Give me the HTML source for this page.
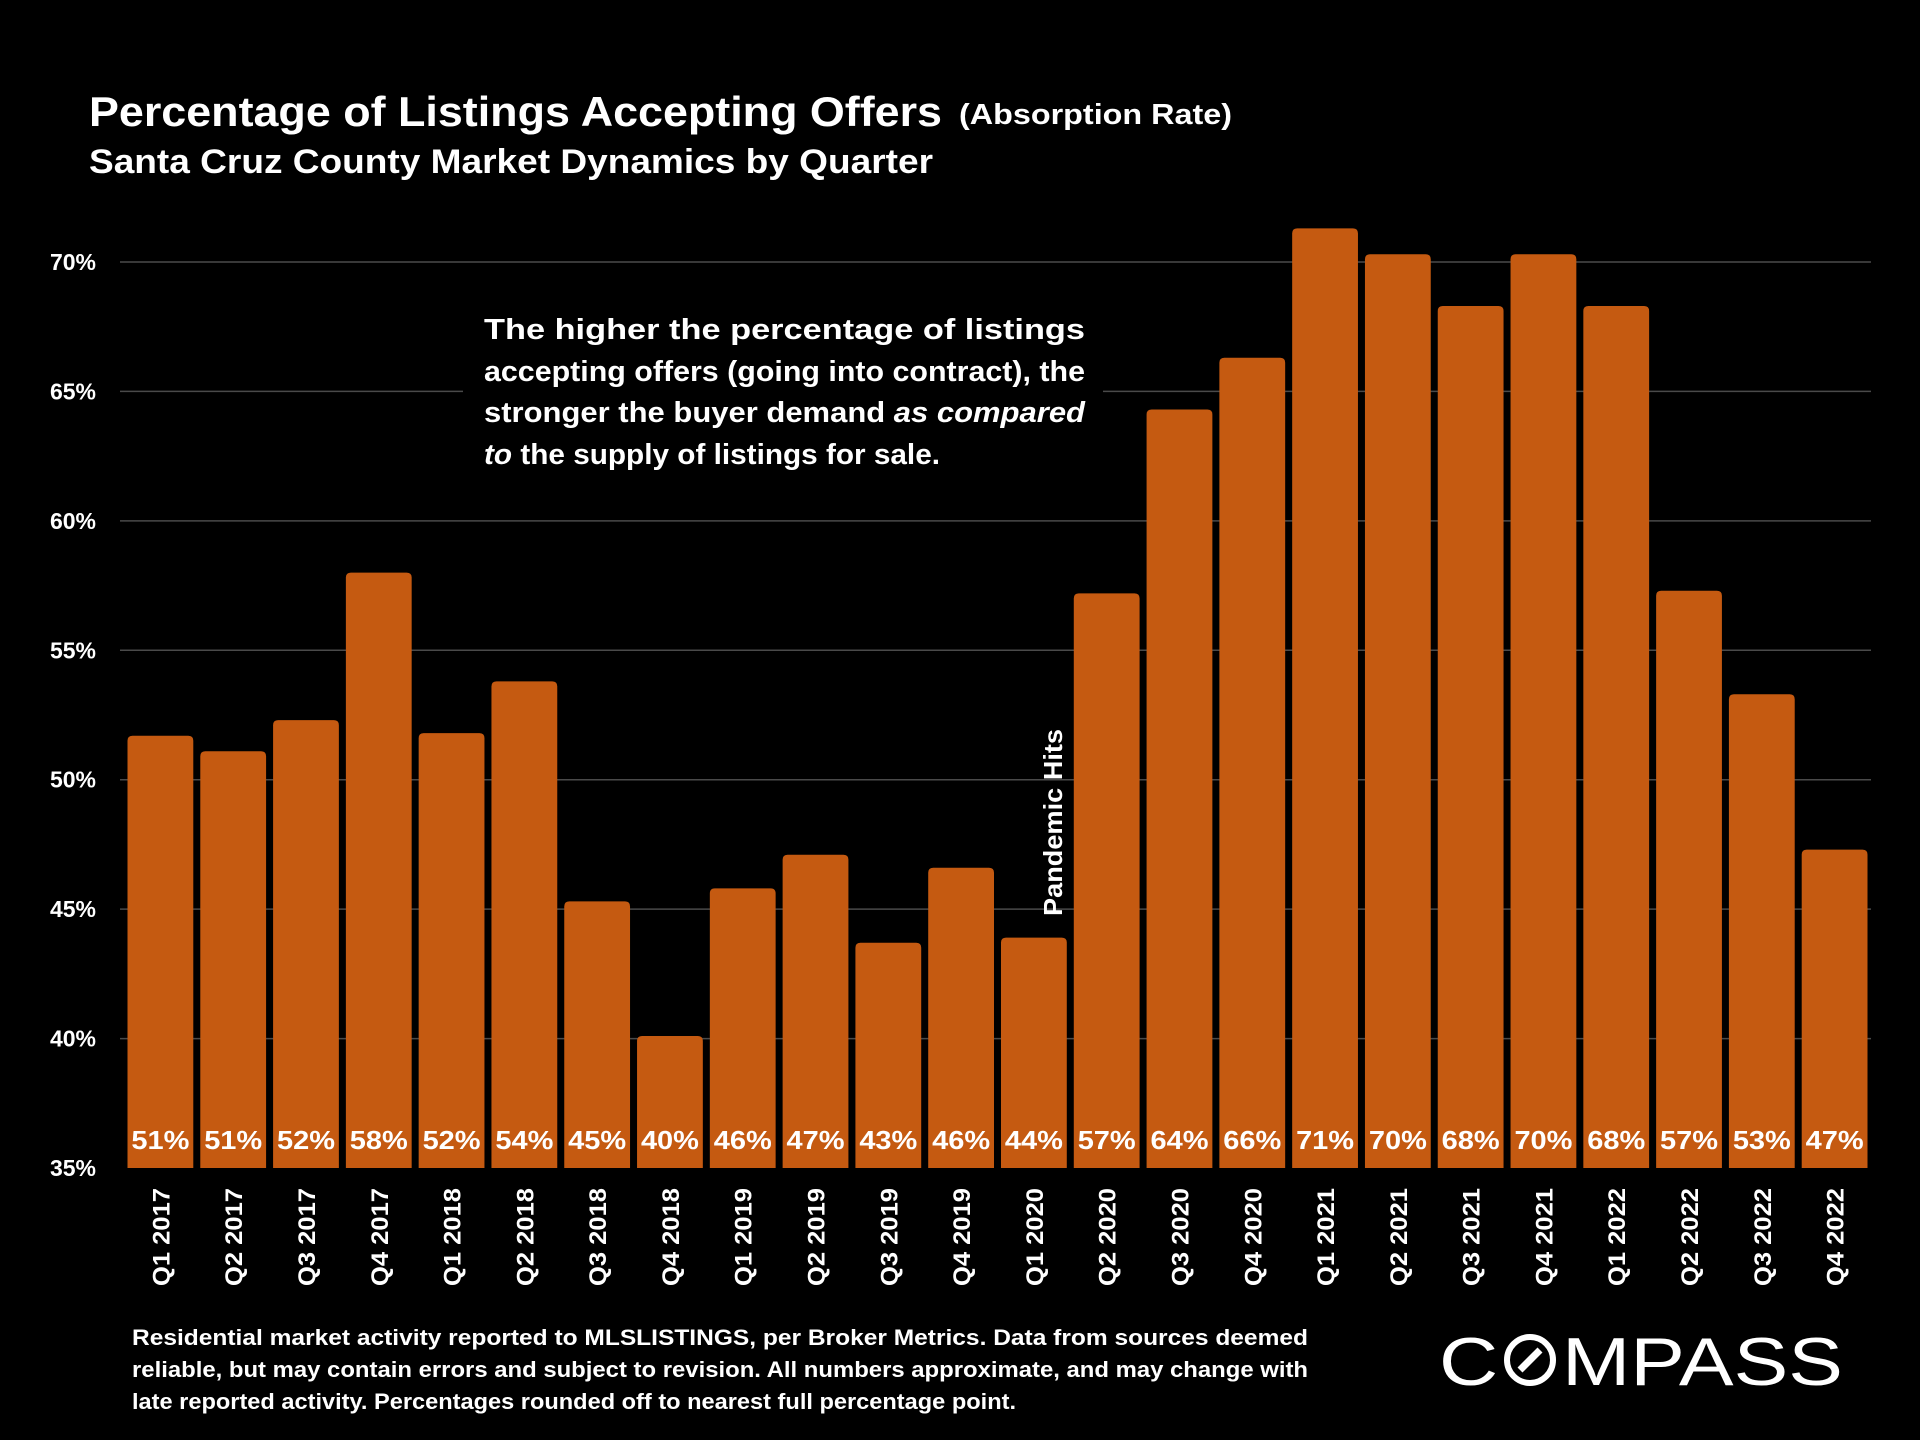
<!DOCTYPE html>
<html><head><meta charset="utf-8">
<style>
html,body{margin:0;padding:0;background:#000;}
svg{display:block;}
text{font-family:"Liberation Sans",sans-serif;fill:#fff;}
</style></head>
<body>
<svg id="chart" width="1920" height="1440" viewBox="0 0 1920 1440" xmlns="http://www.w3.org/2000/svg">
<rect x="0" y="0" width="1920" height="1440" fill="#000"/>
<g>
<text x="89" y="126" font-size="42" font-weight="bold" textLength="853" lengthAdjust="spacingAndGlyphs">Percentage of Listings Accepting Offers</text>
<text x="959" y="124" font-size="29" font-weight="bold" textLength="273" lengthAdjust="spacingAndGlyphs">(Absorption Rate)</text>
</g>
<text x="89" y="173" font-size="34" font-weight="bold" textLength="844" lengthAdjust="spacingAndGlyphs">Santa Cruz County Market Dynamics by Quarter</text>
<g id="grid"></g>
<g id="yticks"></g>
<rect x="463" y="295" width="640" height="185" fill="#000"/>
<g font-size="29" font-weight="bold">
<text x="484" y="339" textLength="601" lengthAdjust="spacingAndGlyphs">The higher the percentage of listings</text>
<text x="484" y="381" textLength="601" lengthAdjust="spacingAndGlyphs">accepting offers (going into contract), the</text>
<text x="484" y="422" textLength="601" lengthAdjust="spacingAndGlyphs">stronger the buyer demand <tspan font-style="italic">as compared</tspan></text>
<text x="484" y="464" textLength="456" lengthAdjust="spacingAndGlyphs"><tspan font-style="italic">to</tspan> the supply of listings for sale.</text>
</g>
<g id="bars"></g>
<g id="xlabels"></g>
<text transform="translate(1062,916) rotate(-90)" font-size="26" font-weight="bold" textLength="187" lengthAdjust="spacingAndGlyphs">Pandemic Hits</text>
<g font-size="22" font-weight="bold">
<text x="132" y="1345" textLength="1176" lengthAdjust="spacingAndGlyphs">Residential market activity reported to MLSLISTINGS, per Broker Metrics. Data from sources deemed</text>
<text x="132" y="1377" textLength="1176" lengthAdjust="spacingAndGlyphs">reliable, but may contain errors and subject to revision. All numbers approximate, and may change with</text>
<text x="132" y="1409" textLength="884" lengthAdjust="spacingAndGlyphs">late reported activity. Percentages rounded off to nearest full percentage point.</text>
</g>
<g>
<text x="1439" y="1385" font-size="68" textLength="404" lengthAdjust="spacingAndGlyphs">C<tspan fill="#000">O</tspan>MPASS</text>
<circle cx="1530" cy="1360" r="23" fill="none" stroke="#fff" stroke-width="6"/>
<line x1="1520" y1="1370" x2="1540" y2="1350" stroke="#fff" stroke-width="7"/>
</g>
<script>
const categories = ["Q1 2017","Q2 2017","Q3 2017","Q4 2017","Q1 2018","Q2 2018","Q3 2018","Q4 2018","Q1 2019","Q2 2019","Q3 2019","Q4 2019","Q1 2020","Q2 2020","Q3 2020","Q4 2020","Q1 2021","Q2 2021","Q3 2021","Q4 2021","Q1 2022","Q2 2022","Q3 2022","Q4 2022"];
const values = [51.7,51.1,52.3,58.0,51.8,53.8,45.3,40.1,45.8,47.1,43.7,46.6,43.9,57.2,64.3,66.3,71.3,70.3,68.3,70.3,68.3,57.3,53.3,47.3];
const valueLabels = ["51%","51%","52%","58%","52%","54%","45%","40%","46%","47%","43%","46%","44%","57%","64%","66%","71%","70%","68%","70%","68%","57%","53%","47%"];
const yTicks = [35,40,45,50,55,60,65,70];
const yTickLabels = ["35%","40%","45%","50%","55%","60%","65%","70%"];

const NS = "http://www.w3.org/2000/svg";
const plotLeft = 124, plotRight = 1871, yTop = 262, yBot = 1168, yMin = 35, yMax = 70;
const band = (plotRight - plotLeft) / categories.length;
const barW = band - 7;
function y(v){ return yBot - (v - yMin) / (yMax - yMin) * (yBot - yTop); }
function xc(i){ return plotLeft + band * (i + 0.5); }
function mk(tag, attrs, parent){ const e = document.createElementNS(NS, tag); for (const k in attrs) e.setAttribute(k, attrs[k]); parent.appendChild(e); return e; }

const grid = document.getElementById('grid');
const yt = document.getElementById('yticks');
yTicks.forEach((t, i) => {
  if (t > yMin) {
    const l = mk('line', {x1: plotLeft - 4, x2: plotRight, y1: y(t), y2: y(t), stroke: '#4a4a4a', 'stroke-width': 1.5}, grid);
    
    
  }
  const tx = mk('text', {x: 96, y: y(t) + 8, 'font-size': 23, 'font-weight': 'bold', 'text-anchor': 'end'}, yt);
  
  
  tx.textContent = yTickLabels[i];
});

const bars = document.getElementById('bars');
const xl = document.getElementById('xlabels');
values.forEach((v, i) => {
  const top = y(v), x0 = xc(i) - barW / 2;
  const r = 5;
  const p = mk('path', {d: `M${x0},${yBot} L${x0},${top + r} Q${x0},${top} ${x0 + r},${top} L${x0 + barW - r},${top} Q${x0 + barW},${top} ${x0 + barW},${top + r} L${x0 + barW},${yBot} Z`, fill: '#C55A11'}, bars);
  
  
  const vl = mk('text', {x: xc(i), y: 1149, 'font-size': 26, 'font-weight': 'bold', 'text-anchor': 'middle', textLength: 58, lengthAdjust: 'spacingAndGlyphs'}, bars);
  
  
  vl.textContent = valueLabels[i];
  const cl = mk('text', {transform: `translate(${xc(i) + 9},1188) rotate(-90)`, 'font-size': 24, 'font-weight': 'bold', 'text-anchor': 'end', textLength: 98, lengthAdjust: 'spacingAndGlyphs'}, xl);
  
  
  cl.textContent = categories[i];
});
</script>
</svg>
</body></html>
